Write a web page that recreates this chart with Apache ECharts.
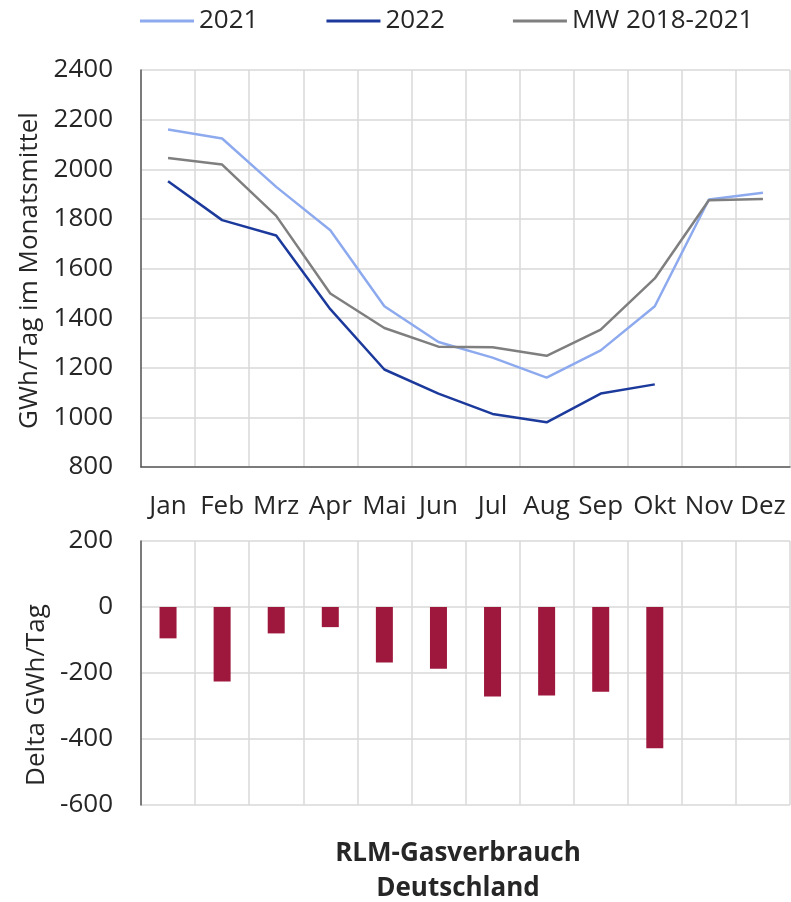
<!DOCTYPE html>
<html>
<head>
<meta charset="utf-8">
<script src="https://cdn.jsdelivr.net/npm/echarts@6/dist/echarts.min.js"></script>
<style>
  html, body { margin: 0; padding: 0; background: #fff; }
  #chart { width: 791px; height: 902px; }
</style>
</head>
<body>
<div id="chart"></div>
<script>
// Monate
const months = ['Jan', 'Feb', 'Mrz', 'Apr', 'Mai', 'Jun', 'Jul', 'Aug', 'Sep', 'Okt', 'Nov', 'Dez'];
// GWh/Tag im Monatsmittel
const y2021 = [2160, 2124, 1929, 1754, 1448, 1304, 1241, 1160, 1270, 1448, 1878, 1905];
const y2022 = [1952, 1795, 1733, 1436, 1193, 1096, 1014, 980, 1096, 1133, null, null];
const mw2018_2021 = [2045, 2019, 1812, 1499, 1360, 1285, 1283, 1248, 1354, 1560, 1875, 1880];
// Delta 2022 zu MW, GWh/Tag
const delta = [-95, -226, -80, -61, -168, -187, -271, -268, -257, -428, null, null];

const chartDom = document.getElementById('chart');
const myChart = echarts.init(chartDom);

const FONT = 'Open Sans';
const FS = 26;
const textColor = '#262626';
const gridColor = '#d9d9d9';
const axisColor = '#595959';

// Zahlen ohne Tausendertrennzeichen
const plain = (v) => String(v);

const option = {
  animation: false,
  textStyle: { fontFamily: FONT },
  legend: {
    left: 135,
    top: 3,
    icon: 'rect',
    itemWidth: 54,
    itemHeight: 3,
    itemGap: 68,
    textStyle: { fontSize: FS, color: textColor, fontFamily: FONT },
    data: ['2021', '2022', 'MW 2018-2021']
  },
  title: {
    text: 'RLM-Gasverbrauch\nDeutschland',
    left: 453,
    top: 831,
    textAlign: 'center',
    textStyle: { fontSize: FS, fontWeight: 'bold', color: textColor, lineHeight: 35, fontFamily: FONT }
  },
  grid: [
    { left: 141, right: 1, top: 70, height: 397 },
    { left: 141, right: 1, top: 541, height: 264 }
  ],
  xAxis: [
    {
      type: 'category', gridIndex: 0, data: months, boundaryGap: true,
      axisLine: { lineStyle: { color: axisColor, width: 1.5 } },
      axisTick: { show: false },
      axisLabel: { fontSize: FS, color: textColor, margin: 27, interval: 0 },
      splitLine: { show: true, lineStyle: { color: gridColor, width: 1.5 } }
    },
    {
      type: 'category', gridIndex: 1, data: months, boundaryGap: true,
      axisLine: { show: false },
      axisTick: { show: false },
      axisLabel: { show: false },
      splitLine: { show: true, lineStyle: { color: gridColor, width: 1.5 } }
    }
  ],
  yAxis: [
    {
      type: 'value', gridIndex: 0, min: 800, max: 2400, interval: 200,
      name: 'GWh/Tag im Monatsmittel', nameLocation: 'middle', nameGap: 88,
      nameTextStyle: { fontSize: FS, color: textColor, padding: [0, 4, 0, 0] },
      axisLine: { show: true, lineStyle: { color: axisColor, width: 1.5 } },
      axisTick: { show: false },
      axisLabel: { fontSize: FS, color: textColor, margin: 28, formatter: plain },
      splitLine: { show: true, lineStyle: { color: gridColor, width: 1.5 } }
    },
    {
      type: 'value', gridIndex: 1, min: -600, max: 200, interval: 200,
      name: 'Delta GWh/Tag', nameLocation: 'middle', nameGap: 88,
      nameTextStyle: { fontSize: FS, color: textColor, padding: [0, 44, 0, 0] },
      axisLine: { show: true, lineStyle: { color: axisColor, width: 1.5 } },
      axisTick: { show: false },
      axisLabel: { fontSize: FS, color: textColor, margin: 28, formatter: plain },
      splitLine: { show: true, lineStyle: { color: gridColor, width: 1.5 } }
    }
  ],
  series: [
    {
      name: '2021', type: 'line', xAxisIndex: 0, yAxisIndex: 0, data: y2021,
      symbol: 'none', lineStyle: { color: '#8eaaee', width: 2.5 }, itemStyle: { color: '#8eaaee' }
    },
    {
      name: '2022', type: 'line', xAxisIndex: 0, yAxisIndex: 0, data: y2022,
      symbol: 'none', lineStyle: { color: '#1c3a9c', width: 2.5 }, itemStyle: { color: '#1c3a9c' }
    },
    {
      name: 'MW 2018-2021', type: 'line', xAxisIndex: 0, yAxisIndex: 0, data: mw2018_2021,
      symbol: 'none', lineStyle: { color: '#7f7f7f', width: 2.5 }, itemStyle: { color: '#7f7f7f' }
    },
    {
      name: 'Delta', type: 'bar', xAxisIndex: 1, yAxisIndex: 1, data: delta,
      barWidth: 17, itemStyle: { color: '#9e183d' }
    }
  ]
};

myChart.setOption(option);
</script>
</body>
</html>
